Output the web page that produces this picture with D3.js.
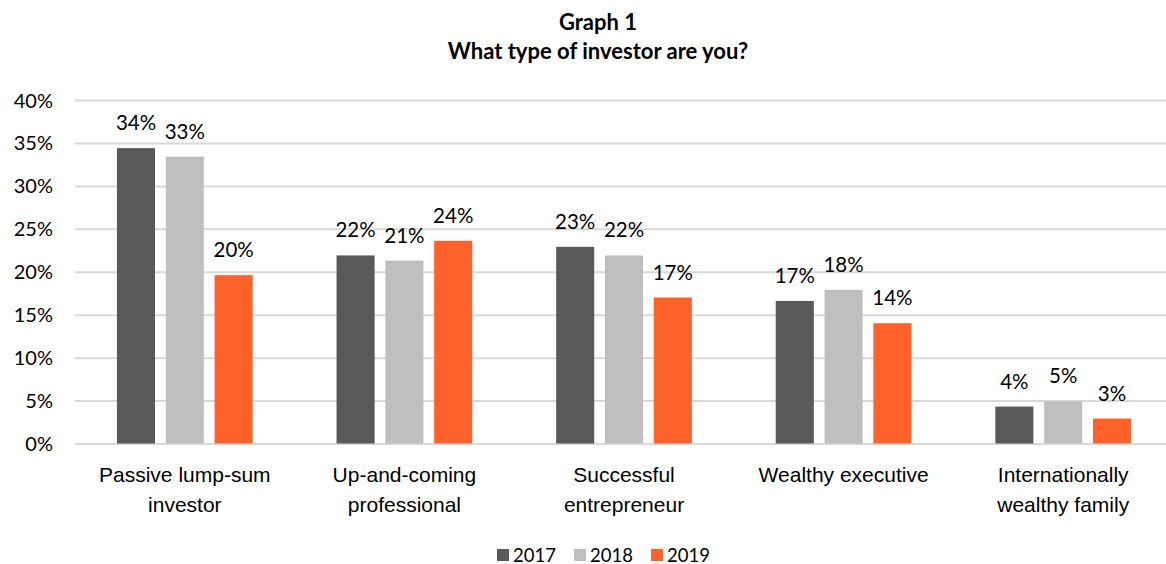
<!DOCTYPE html>
<html>
<head>
<meta charset="utf-8">
<script src="https://cdn.jsdelivr.net/npm/d3@7"></script>
<style>
  html, body { margin: 0; padding: 0; background: #fff; }
  svg { display: block; font-family: Lato, "Open Sans", sans-serif; }
</style>
</head>
<body>
<svg id="chart" width="1166" height="564"></svg>
<script>
// Investor types surveyed (each label split over two lines where needed)
const categories = [
  ["Passive lump-sum", "investor"],
  ["Up-and-coming", "professional"],
  ["Successful", "entrepreneur"],
  ["Wealthy executive"],
  ["Internationally", "wealthy family"]
];
const years = ["2017", "2018", "2019"];

// Share of respondents (%) per category, one array per survey year
const values2017 = [34.4, 21.9, 22.9, 16.6, 4.3];
const values2018 = [33.4, 21.3, 21.9, 17.9, 4.9];
const values2019 = [19.6, 23.6, 17.0, 14.0, 2.9];

const yTicks = [0, 5, 10, 15, 20, 25, 30, 35, 40];
const colors = ["#595959", "#bfbfbf", "#ff612b"];

const series = [values2017, values2018, values2019];

const svg = d3.select("#chart");
const plot = { left: 75, right: 1173, top: 100, bottom: 443.5 };

const x0 = d3.scaleBand()
  .domain(d3.range(categories.length))
  .range([plot.left, plot.right])
  .paddingInner(0.382)
  .paddingOuter(0.191);

const x1 = d3.scaleBand()
  .domain(d3.range(years.length))
  .range([0, x0.bandwidth()])
  .paddingInner(0.22)
  .paddingOuter(0);

const y = d3.scaleLinear().domain([0, 40]).range([plot.bottom, plot.top]);

// Title
const title = svg.append("g").attr("font-weight", 700).attr("font-size", 22)
  .attr("text-anchor", "middle").attr("fill", "#000");
title.append("text").attr("x", 598).attr("y", 30).text("Graph 1");
title.append("text").attr("x", 598).attr("y", 59).text("What type of investor are you?");

// Horizontal gridlines + y axis labels
const yAxis = d3.axisLeft(y)
  .tickValues(yTicks)
  .tickSize(plot.left - plot.right)
  .tickPadding(22)
  .tickFormat(d => d + "%");

const gy = svg.append("g")
  .attr("transform", `translate(${plot.left},0)`)
  .call(yAxis);
gy.select(".domain").remove();
gy.selectAll(".tick line").attr("stroke", "#d9d9d9").attr("stroke-width", 2);
gy.selectAll(".tick text")
  .attr("font-size", 20).attr("fill", "#000")
  .attr("font-family", "Lato, sans-serif")
  .attr("dy", "0.35em");

// Bars grouped by category
const groups = svg.append("g").selectAll("g")
  .data(categories.map((c, i) => i))
  .join("g")
  .attr("transform", i => `translate(${x0(i)},0)`);

groups.selectAll("rect")
  .data(i => series.map((s, k) => ({ k, v: s[i] })))
  .join("rect")
  .attr("x", d => x1(d.k))
  .attr("width", x1.bandwidth())
  .attr("y", d => y(d.v))
  .attr("height", d => y(0) - y(d.v))
  .attr("fill", d => colors[d.k]);

// Value labels above each bar
groups.selectAll("text.val")
  .data(i => series.map((s, k) => ({ k, v: s[i] })))
  .join("text")
  .attr("class", "val")
  .attr("x", d => x1(d.k) + x1.bandwidth() / 2)
  .attr("y", d => y(d.v) - 18)
  .attr("text-anchor", "middle")
  .attr("font-size", 20.5)
  .attr("fill", "#000")
  .text(d => Math.round(d.v) + "%");

// Category labels under the axis
const xAxis = d3.axisBottom(x0).tickSize(0).tickFormat("");
const gx = svg.append("g")
  .attr("transform", `translate(0,${plot.bottom})`)
  .call(xAxis);
gx.select(".domain").remove();
gx.selectAll(".tick").each(function (i) {
  const t = d3.select(this).append("text")
    .attr("text-anchor", "middle")
    .attr("font-size", 21)
    .attr("fill", "#000");
  categories[i].forEach((line, j) => {
    t.append("tspan").attr("x", 0).attr("y", 38.5 + j * 30).text(line);
  });
});

// Legend
const legendX = [497, 574, 651];
const legend = svg.append("g").selectAll("g")
  .data(years)
  .join("g")
  .attr("transform", (d, i) => `translate(${legendX[i]},549)`);
legend.append("rect")
  .attr("width", 12).attr("height", 12)
  .attr("fill", (d, i) => colors[i]);
legend.append("text")
  .attr("x", 16).attr("y", 12.5)
  .attr("font-size", 18.5)
  .attr("fill", "#000")
  .text(d => d);
</script>
</body>
</html>
